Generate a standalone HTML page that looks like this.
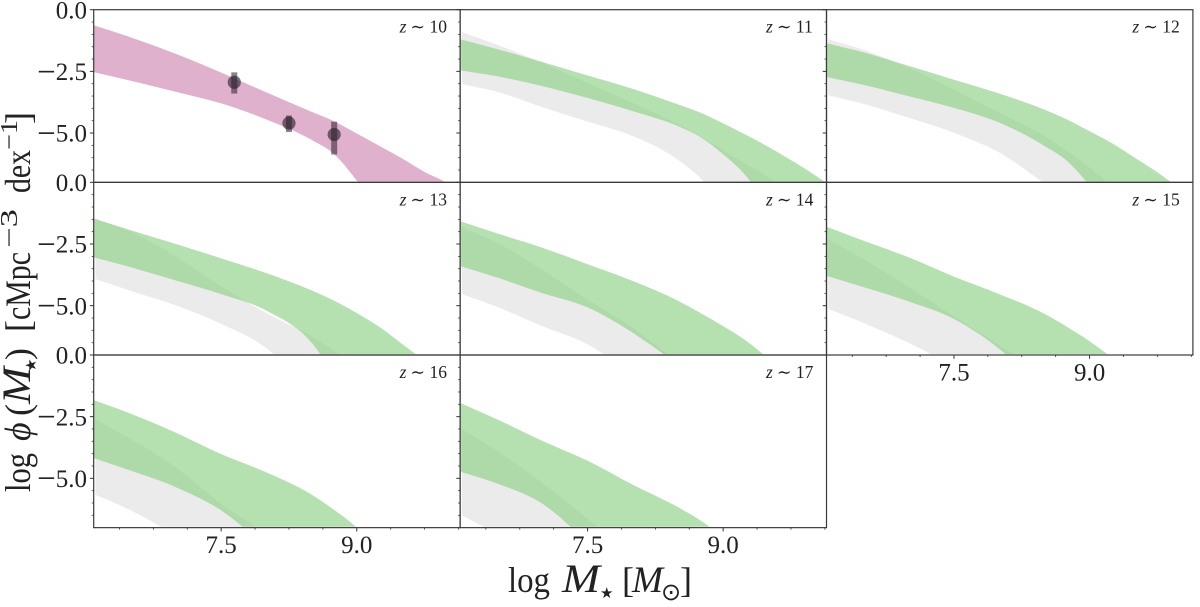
<!DOCTYPE html>
<html lang="en">
<head>
<meta charset="utf-8">
<title>Stellar mass functions</title>
<style>
html,body{margin:0;padding:0;background:#fff;}
svg{display:block;}
text{font-family:"Liberation Serif","DejaVu Serif",serif;fill:#222;}
.math{font-family:"DejaVu Sans",sans-serif;}
</style>
</head>
<body>
<svg id="chart" xmlns="http://www.w3.org/2000/svg" width="1200" height="607" viewBox="0 0 1200 607">
  <rect width="1200" height="607" fill="#fff"/>
  <g id="panels"></g>

  <g font-size="36">
    <text x="508" y="592" textLength="42" lengthAdjust="spacingAndGlyphs">log</text>
    <text x="562" y="592" font-size="40" font-style="italic" textLength="38" lengthAdjust="spacingAndGlyphs">M</text>
    <text class="math" x="600" y="598" font-size="15">★</text>
    <text x="622" y="592">[</text>
    <text x="632" y="592" font-size="37" font-style="italic" textLength="31" lengthAdjust="spacingAndGlyphs">M</text>
    <text class="math" x="661" y="600" font-size="24">⊙</text>
    <text x="680" y="592">]</text>
  </g>

  <g transform="translate(30,0) rotate(-90)" font-size="36">
    <text x="-492" y="0" textLength="39" lengthAdjust="spacingAndGlyphs">log</text>
    <text x="-441" y="0" font-style="italic">ϕ</text>
    <text x="-416" y="0">(</text>
    <text x="-404" y="0" font-size="40" font-style="italic" textLength="37" lengthAdjust="spacingAndGlyphs">M</text>
    <text class="math" x="-372" y="6" font-size="15">★</text>
    <text x="-360" y="0">)</text>
    <text x="-332" y="0">[</text>
    <text x="-320" y="0" textLength="68" lengthAdjust="spacingAndGlyphs">cMpc</text>
    <text x="-248" y="-13" font-size="24" textLength="39" lengthAdjust="spacingAndGlyphs">−3</text>
    <text x="-193" y="0" textLength="43" lengthAdjust="spacingAndGlyphs">dex</text>
    <text x="-150" y="-13" font-size="24" textLength="30" lengthAdjust="spacingAndGlyphs">−1</text>
    <text x="-124" y="0">]</text>
  </g>
</svg>

<script>
// Shared log-mass sampling grid for every band
const massGrid = [6.09, 6.5, 7, 7.5, 8, 8.5, 8.75, 9, 9.25, 9.5, 9.75, 10, 10.14];
const grayStartMass = 6.11;

// Panel labels
const redshifts = [10, 11, 12, 13, 14, 15, 16, 17];

// Tick values and labels
const xMajorTicks = [7.5, 9.0];
const xMajorLabels = ['7.5', '9.0'];
const xMinorTicks = [6.375, 6.75, 7.125, 7.875, 8.25, 8.625, 9.375, 9.75, 10.125];
const yMajorTicks = [0, -2.5, -5];
const yMajorLabels = ['0.0', '2.5', '5.0'];
const yMinorTicks = [-0.5, -1, -1.5, -2, -3, -3.5, -4, -4.5, -5.5, -6, -6.5];

// z ~ 10 measured band
const z10Upper = [-0.63, -1.12, -1.79, -2.55, -3.35, -4.14, -4.53, -5.02, -5.52, -6.03, -6.58, -7.05, -7.5];
const z10Lower = [-2.53, -2.88, -3.33, -3.80, -4.45, -5.28, -5.86, -6.93, -8.2];

// z ~ 10 data points
const pointMass = [7.645, 8.25, 8.75];
const pointPhi = [-2.94, -4.6, -5.06];
const pointErrHigh = [-2.54, -4.29, -4.54];
const pointErrLow = [-3.4, -4.96, -5.87];

// Green bands
const z11GreenUpper = [-1.20, -1.60, -2.12, -2.67, -3.21, -3.84, -4.18, -4.61, -5.07, -5.56, -6.10, -6.67, -7.02];
const z11GreenLower = [-2.46, -2.70, -3.10, -3.58, -4.11, -4.72, -5.17, -5.86, -6.73, -8];
const z12GreenUpper = [-1.36, -1.73, -2.28, -2.84, -3.40, -4.05, -4.45, -4.93, -5.42, -6.0, -6.59, -7.27];
const z12GreenLower = [-2.73, -3.05, -3.51, -3.98, -4.58, -5.52, -6.13, -7.14, -8.4];
const z13GreenUpper = [-1.47, -1.94, -2.5, -3.08, -3.68, -4.38, -4.80, -5.30, -5.86, -6.55, -7.24];
const z13GreenLower = [-3.04, -3.44, -3.98, -4.53, -5.2, -6.5, -7.8];
const z14GreenUpper = [-1.57, -2.07, -2.65, -3.32, -4.0, -4.8, -5.3, -5.83, -6.41, -7.14];
const z14GreenLower = [-3.39, -3.86, -4.49, -5.07, -6.1, -7.38];
const z15GreenUpper = [-1.8, -2.37, -3.04, -3.82, -4.53, -5.33, -5.86, -6.44, -7.11];
const z15GreenLower = [-3.79, -4.25, -4.83, -5.54, -6.75, -8.5];
const z16GreenUpper = [-1.83, -2.38, -3.15, -4.02, -4.76, -5.66, -6.28, -7.0, -8];
const z16GreenLower = [-4.18, -4.69, -5.36, -6.3, -7.78];
const z17GreenUpper = [-1.94, -2.61, -3.48, -4.29, -5.26, -6.17, -6.71, -7.38];
const z17GreenLower = [-4.73, -5.21, -6.03, -7.58];

// Gray reference bands
const z11GrayUpper = [-0.91, -1.42, -2.16, -2.97, -3.78, -4.65, -5.15, -5.69, -6.26, -6.8, -7.8];
const z11GrayLower = [-3.01, -3.33, -3.95, -4.54, -5.12, -6.09, -6.84, -8];
const z12GrayUpper = [-1.2, -1.63, -2.37, -3.24, -4.18, -5.12, -5.73, -6.4, -7.2];
const z12GrayLower = [-3.47, -3.82, -4.38, -4.99, -5.79, -7.04];
const z13GrayUpper = [-1.47, -2.0, -3.01, -4.22, -5.3, -6.24, -6.84, -7.6];
const z13GrayLower = [-3.92, -4.4, -4.99, -5.74, -6.72, -8.5];
const z14GrayUpper = [-1.83, -2.45, -3.55, -4.76, -5.9, -7.31];
const z14GrayLower = [-4.53, -5.05, -5.83, -6.57, -7.8];
const z15GrayUpper = [-2.31, -3.12, -4.25, -5.43, -6.6, -7.85];
const z15GrayLower = [-5.13, -5.70, -6.51, -7.45];
const z16GrayUpper = [-2.61, -3.41, -4.56, -6.03, -7.24];
const z16GrayLower = [-5.67, -6.3, -7.38, -9];
const z17GrayUpper = [-3.01, -3.88, -5.19, -6.64, -8.2];
const z17GrayLower = [-6.5, -7.31, -9];

const greenUppers = [z11GreenUpper, z12GreenUpper, z13GreenUpper, z14GreenUpper, z15GreenUpper, z16GreenUpper, z17GreenUpper];
const greenLowers = [z11GreenLower, z12GreenLower, z13GreenLower, z14GreenLower, z15GreenLower, z16GreenLower, z17GreenLower];
const grayUppers = [z11GrayUpper, z12GrayUpper, z13GrayUpper, z14GrayUpper, z15GrayUpper, z16GrayUpper, z17GrayUpper];
const grayLowers = [z11GrayLower, z12GrayLower, z13GrayLower, z14GrayLower, z15GrayLower, z16GrayLower, z17GrayLower];

// Layout and axis limits
const NS = 'http://www.w3.org/2000/svg';
const plotLeft = 93.7, panelW = 366.4, plotTop = 9.7, panelH = 172.65;
const xMin = 6.09, xMax = 10.143, yMin = -7, yMax = 0;
const root = document.getElementById('panels');

function make(tag, attrs, parent) {
  const el = document.createElementNS(NS, tag);
  for (const k in attrs) el.setAttribute(k, attrs[k]);
  parent.appendChild(el);
  return el;
}

// Smooth curve through the points: cubic Hermite with spacing-aware slopes
function curveSegments(pts) {
  const n = pts.length;
  const slopes = pts.map(function (p, i) {
    if (n < 2) return 0;
    if (i === 0) return (pts[1][1] - p[1]) / (pts[1][0] - p[0]);
    if (i === n - 1) return (p[1] - pts[i - 1][1]) / (p[0] - pts[i - 1][0]);
    const h0 = p[0] - pts[i - 1][0], h1 = pts[i + 1][0] - p[0];
    const d0 = (p[1] - pts[i - 1][1]) / h0, d1 = (pts[i + 1][1] - p[1]) / h1;
    return (h1 * d0 + h0 * d1) / (h0 + h1);
  });
  let d = '';
  for (let i = 0; i < n - 1; i++) {
    const p1 = pts[i], p2 = pts[i + 1], h = (p2[0] - p1[0]) / 3;
    d += 'C' + (p1[0] + h).toFixed(2) + ' ' + (p1[1] + slopes[i] * h).toFixed(2) + ' ' +
      (p2[0] - h).toFixed(2) + ' ' + (p2[1] - slopes[i + 1] * h).toFixed(2) + ' ' +
      p2[0].toFixed(2) + ' ' + p2[1].toFixed(2);
  }
  return d;
}

function bandPath(upper, lower, sx, sy, startMass) {
  const up = upper.map(function (v, i) { return [sx(Math.max(massGrid[i], startMass)), sy(v)]; });
  const low = lower.map(function (v, i) { return [sx(Math.max(massGrid[i], startMass)), sy(v)]; }).reverse();
  return 'M' + up[0][0].toFixed(2) + ' ' + up[0][1].toFixed(2) + curveSegments(up) +
    'L' + low[0][0].toFixed(2) + ' ' + low[0][1].toFixed(2) + curveSegments(low) + 'Z';
}

const defs = make('defs', {}, root);

redshifts.forEach(function (z, idx) {
  const col = idx % 3, row = Math.floor(idx / 3);
  const left = plotLeft + col * panelW, top = plotTop + row * panelH;
  const sx = function (m) { return left + (m - xMin) / (xMax - xMin) * panelW; };
  const sy = function (v) { return top + (yMax - v) / (yMax - yMin) * panelH; };
  const showXAxis = (row === 2) || (row === 1 && col === 2);
  const g = make('g', {}, root);
  
  

  const clip = make('clipPath', { id: 'clip-' + z }, defs);
  make('rect', { x: left, y: top, width: panelW, height: panelH - 0.9 }, clip);

  const bands = make('g', { 'clip-path': 'url(#clip-' + z + ')' }, g);
  if (idx === 0) {
    const pink = make('path', { d: bandPath(z10Upper, z10Lower, sx, sy, xMin), fill: '#e0b1cc' }, bands);
    
    
  } else {
    const gray = make('path', { d: bandPath(grayUppers[idx - 1], grayLowers[idx - 1], sx, sy, grayStartMass), fill: '#ebebeb' }, bands);
    
    
    const green = make('path', { d: bandPath(greenUppers[idx - 1], greenLowers[idx - 1], sx, sy, xMin), fill: 'rgb(141,207,134)', 'fill-opacity': '0.65' }, bands);
    
    
  }

  if (idx === 0) {
    pointMass.forEach(function (m, i) {
      const bar = make('rect', { x: sx(m) - 3, y: sy(pointErrHigh[i]), width: 6, height: sy(pointErrLow[i]) - sy(pointErrHigh[i]), fill: '#2a1f2a', 'fill-opacity': '0.55' }, g);
      
      
      const dot = make('circle', { cx: sx(m), cy: sy(pointPhi[i]), r: 6.6, fill: '#2a1f2a', 'fill-opacity': '0.62' }, g);
      
      
    });
  }

  const frame = make('rect', { x: left, y: top, width: panelW, height: panelH, fill: 'none', stroke: '#3a3a3a', 'stroke-width': 1.2 }, g);
  
  

  yMajorTicks.forEach(function (v, i) {
    const t = make('line', { x1: left - 3.8, x2: left, y1: sy(v), y2: sy(v), stroke: '#333', 'stroke-width': 1 }, g);
    
    
    if (col === 0) {
      const label = make('text', { x: 87, y: sy(v) + 8.6, 'font-size': 25, 'text-anchor': 'end' }, g);
      
      
      if (v < 0) {
        const minus = make('tspan', { 'font-size': 33, dy: 2.3 }, label);
        minus.textContent = '−';
        const rest = make('tspan', { dy: -2.3 }, label);
        rest.textContent = yMajorLabels[i];
      } else {
        label.textContent = yMajorLabels[i];
      }
    }
  });
  yMinorTicks.forEach(function (v) {
    const t = make('line', { x1: left - 2, x2: left, y1: sy(v), y2: sy(v), stroke: '#333', 'stroke-width': 0.8 }, g);
    
    
  });

  if (showXAxis) {
    xMajorTicks.forEach(function (m, i) {
      const t = make('line', { x1: sx(m), x2: sx(m), y1: top + panelH, y2: top + panelH + 3.8, stroke: '#333', 'stroke-width': 1 }, g);
      
      
      const label = make('text', { x: sx(m), y: top + panelH + 25.3, 'font-size': 25, 'text-anchor': 'middle' }, g);
      
      
      label.textContent = xMajorLabels[i];
    });
    xMinorTicks.forEach(function (m) {
      const t = make('line', { x1: sx(m), x2: sx(m), y1: top + panelH, y2: top + panelH + 2, stroke: '#333', 'stroke-width': 0.8 }, g);
      
      
    });
  }

  const zLabel = make('text', { x: left + panelW - 60.5, y: top + 23, 'font-size': 17.5 }, g);
  
  
  const zVar = make('tspan', { 'font-style': 'italic' }, zLabel);
  zVar.textContent = 'z';
  const zRest = make('tspan', { dx: 4 }, zLabel);
  zRest.textContent = '∼ ' + z;
});
</script>
</body>
</html>
